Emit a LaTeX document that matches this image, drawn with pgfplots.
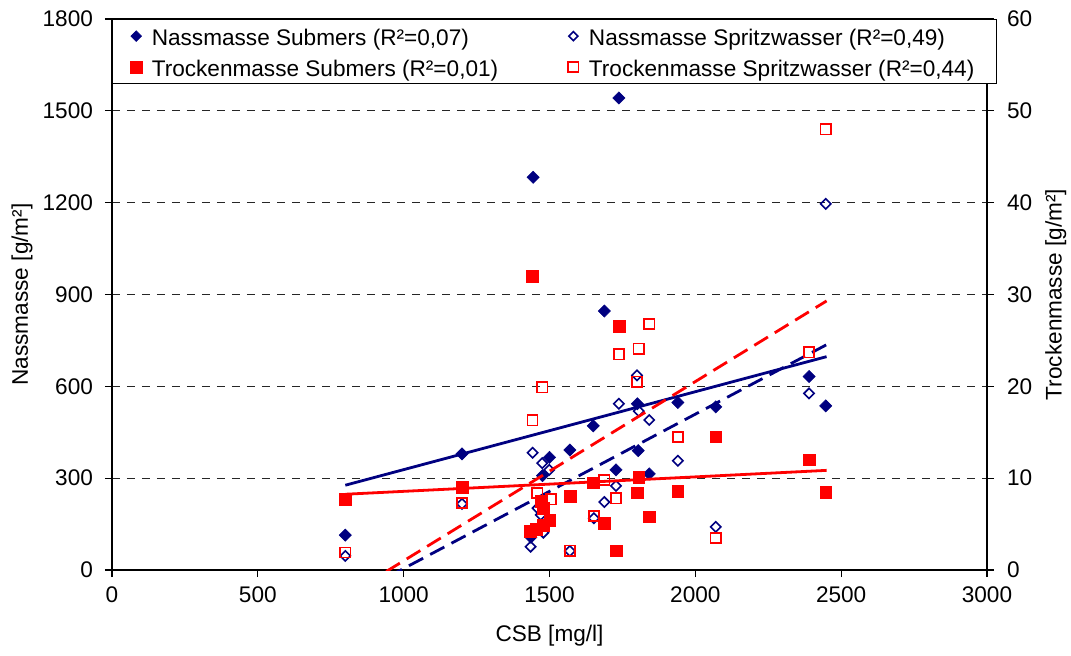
\documentclass[border=0pt]{standalone}
\usepackage{fontspec}
\setmainfont{Liberation Sans}
\usepackage{pgfplots}
\pgfplotsset{compat=1.18}
\definecolor{navyb}{RGB}{0,0,128}
\definecolor{redr}{RGB}{255,0,0}
\newcommand{\fs}{\fontsize{11.3}{13.5}\selectfont}
\begin{document}
\begin{tikzpicture}
\pgfplotsset{
  base/.style={
    scale only axis, width=437.5pt, height=275.5pt,
    xmin=0, xmax=3000,
    tick align=outside, major tick length=3.5pt,
    tick style={black, line width=0.6pt},
    axis line style={black, line width=0.6pt},
    tick label style={font=\fs},
    label style={font=\fs},
    /pgf/number format/assume math mode=true,
    /pgf/number format/1000 sep={},
  },
  nsub/.style={color=navyb, only marks, mark=square*, mark size=2.15pt, mark options={rotate=45, fill=navyb, draw=navyb, line width=0.3pt}},
  nspr/.style={color=navyb, only marks, mark=square, mark size=1.8pt, mark options={rotate=45, draw=navyb, line width=0.8pt}},
  tsub/.style={color=redr, only marks, mark=square*, mark size=2.95pt, mark options={fill=redr, draw=redr, line width=0.3pt}},
  tspr/.style={color=redr, only marks, mark=square, mark size=2.55pt, mark options={draw=redr, line width=0.8pt}},
}
\begin{axis}[base, name=ax,
  ymin=0, ymax=1800, ytick={0,300,...,1800},
  xtick={0,500,...,3000},
  xtick pos=left, ytick pos=left,
  yticklabel style={xshift=-2.5pt},
  xticklabel style={yshift=-1.5pt},
  ymajorgrids, major grid style={black!85, line width=0.5pt, dash pattern=on 4pt off 3.5pt},
  xlabel={CSB [mg/l]}, ylabel={Nassmasse [g/m²]},
  xlabel style={at={(axis description cs:0.5,-0.12)}, anchor=center},
  ylabel style={at={(axis description cs:-0.1029,0.5)}, anchor=center, rotate=0},
]
\addplot[nsub] coordinates {(800,114)(1200,379)(1436,107)(1444,1283)(1476,308)(1500,368)(1570,392)(1650,471)(1688,846)(1728,327)(1738,1542)(1801,543)(1804,390)(1842,314)(1940,547)(2070,533)(2390,632)(2447,536)};
\addplot[nspr] coordinates {(800,46)(1200,216)(1435,76)(1442,383)(1459,202)(1470,180)(1475,349)(1479,122)(1499,327)(1570,62)(1652,169)(1688,222)(1728,275)(1738,543)(1800,636)(1806,519)(1842,490)(1940,357)(2070,141)(2390,577)(2447,1196)};
\addplot[navyb, line width=1.4pt] coordinates {(800,277)(2450,697)};
\addplot[navyb, line width=1.4pt, dash pattern=on 8pt off 4pt] coordinates {(800,-96)(2450,736)};
\end{axis}
\begin{axis}[base, ymin=0, ymax=60, ytick={0,10,...,60},
  axis x line=none, axis y line*=right,
  yticklabel style={xshift=3pt},
  ylabel={Trockenmasse [g/m²]},
  ylabel style={at={(axis description cs:1.0785,0.5)}, anchor=center, rotate=0},
  legend columns=2,
  legend cell align=left,
  legend style={at={(axis description cs:0,1)}, anchor=north west, draw=black, fill=white,
    line width=0.6pt, inner xsep=7.5pt, inner ysep=0.5pt, column sep=0pt, font=\fs,
    nodes={inner xsep=3.5pt, inner ysep=0pt, text height=12.5pt, text depth=3pt}},
  legend image code/.code={\path (0pt,0pt) (8pt,0pt); \draw[#1] plot coordinates {(4pt,0pt)};},
]
\addlegendimage{nsub, mark size=1.9pt}
\addlegendentry{\makebox[203pt][l]{Nassmasse Submers (R²=0,07)}}
\addlegendimage{nspr, mark size=1.6pt}
\addlegendentry{\makebox[183pt][l]{Nassmasse Spritzwasser (R²=0,49)}}
\addplot[tsub] coordinates {(800,7.7)(1200,9.0)(1435,4.2)(1442,32.0)(1456,4.4)(1473,7.5)(1479,6.7)(1479,4.9)(1501,5.4)(1570,8.0)(1650,9.5)(1688,5.1)(1728,2.1)(1738,26.5)(1801,8.4)(1806,10.1)(1842,5.8)(1940,8.6)(2070,14.5)(2390,12.0)(2447,8.5)};
\addlegendentry{Trockenmasse Submers (R²=0,01)}
\addplot[tspr] coordinates {(800,1.9)(1200,7.3)(1442,16.3)(1458,8.4)(1475,19.9)(1505,7.7)(1570,2.1)(1652,5.9)(1688,9.8)(1728,7.8)(1738,23.5)(1800,20.5)(1806,24.1)(1842,26.8)(1940,14.5)(2070,3.5)(2390,23.7)(2447,48.0)};
\addlegendentry{Trockenmasse Spritzwasser (R²=0,44)}
\addplot[redr, line width=1.4pt, forget plot] coordinates {(800,8.25)(2450,10.85)};
\addplot[redr, line width=1.4pt, dash pattern=on 8pt off 4pt, forget plot] coordinates {(800,-2.9)(2450,29.3)};
\end{axis}
\pgfresetboundingbox
\path[use as bounding box] ([xshift=-56pt,yshift=-42.5pt]ax.south west) rectangle ([xshift=42pt,yshift=9.5pt]ax.north east);
\end{tikzpicture}
\end{document}
